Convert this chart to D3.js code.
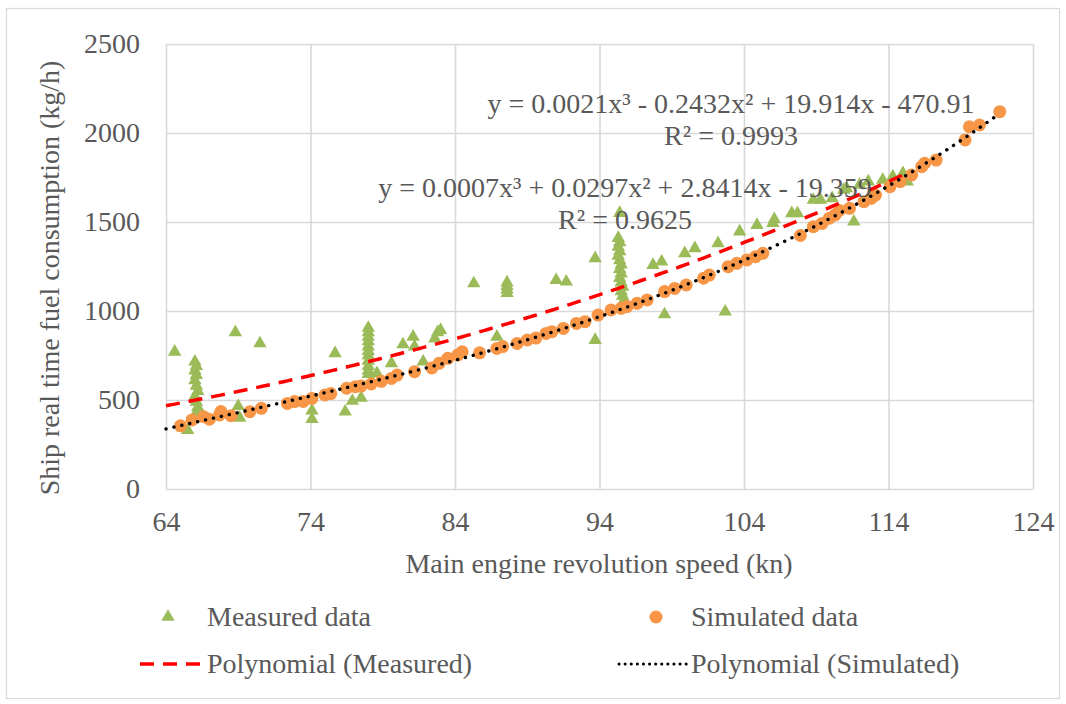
<!DOCTYPE html>
<html>
<head>
<meta charset="utf-8">
<script src="https://cdn.jsdelivr.net/npm/d3@7"></script>
<style>
  body { margin: 0; background: #fff; }
</style>
</head>
<body>
<div id="chart"></div>
<script>
// Measured data (green triangles)
const measuredX = [64.6, 65.5, 66.0, 66.1, 66.0, 66.1, 66.0, 66.1, 66.2, 66.0, 66.1, 66.2, 66.1,
    68.8, 70.5, 69.0, 69.1, 74.1, 74.1, 75.7, 76.4, 76.9, 77.5,
    78.0, 78.0, 78.0, 78.0, 78.0, 78.0, 78.0, 78.0, 78.0, 78.0, 78.0, 78.6,
    79.6, 80.4, 81.1, 81.2, 81.8, 82.6, 82.8, 83.0, 85.3, 86.9,
    87.6, 87.6, 87.6, 87.6, 91.0, 91.7, 93.7, 93.7,
    95.4, 95.3, 95.4, 95.3, 95.4, 95.3, 95.4, 95.5, 95.4, 95.5, 95.4, 95.5, 95.6, 95.5, 95.6, 95.7,
    97.7, 98.3, 98.5, 99.9, 100.6, 102.2, 102.7, 103.7, 104.9, 106.0, 106.1, 107.3, 107.7,
    108.8, 109.3, 110.1, 110.9, 111.1, 111.6, 112.0, 112.6, 113.6, 114.3, 115.0, 115.3];
const measuredY = [771, 331, 715, 690, 665, 640, 610, 580, 550, 520, 490, 460, 430,
    880, 818, 465, 400, 440, 392, 762, 434, 495, 512,
    905, 880, 855, 830, 800, 775, 750, 720, 690, 665, 645, 650,
    706, 812, 855, 800, 715, 845, 880, 893, 1155, 855,
    1160, 1140, 1120, 1100, 1174, 1165, 1296, 837,
    1550, 1410, 1385, 1360, 1335, 1310, 1285, 1260, 1235, 1210, 1185, 1160, 1135, 1110, 1085, 1060,
    1258, 1277, 981, 1324, 1352, 1380, 996, 1446, 1483, 1493, 1515, 1549, 1549,
    1624, 1624, 1633, 1680, 1689, 1502, 1708, 1727, 1736, 1755, 1774, 1727];

// Simulated data (orange circles)
const simulatedX = [65.0, 65.8, 66.6, 67.0, 67.7, 67.8, 68.5, 69.8, 70.6, 72.4, 72.9, 73.5, 74.1,
    75.0, 75.4, 76.5, 77.1, 77.5, 78.2, 78.9, 79.6, 80.0, 81.2, 82.4, 82.9, 83.5, 84.2, 84.5,
    85.7, 86.9, 87.3, 88.3, 89.0, 89.6, 90.3, 90.7, 91.5, 92.4, 93.0, 93.9, 94.8, 95.5, 95.9,
    96.6, 97.3, 98.5, 99.2, 100.0, 101.2, 101.6, 102.9, 103.5, 104.2, 104.8, 105.3, 107.9,
    108.8, 109.4, 109.9, 110.3, 110.6, 111.3, 112.3, 112.8, 113.1, 114.1, 114.8, 115.6, 116.3,
    116.5, 117.3, 119.3, 119.6, 120.3, 121.7];
const simulatedY = [355, 388, 406, 392, 416, 435, 412, 434, 453, 481, 491, 492, 509,
    528, 536, 566, 575, 578, 590, 605, 621, 640, 659, 680, 706, 734, 753, 771,
    765, 790, 800, 818, 837, 848, 874, 884, 902, 930, 940, 977, 1006, 1015, 1025,
    1043, 1062, 1109, 1127, 1146, 1184, 1202, 1249, 1268, 1287, 1305, 1324, 1424,
    1474, 1492, 1521, 1540, 1565, 1577, 1614, 1633, 1651, 1698, 1727, 1764, 1811,
    1830, 1848, 1961, 2035, 2045, 2120];

// Trendline coefficients as printed on the chart (c3, c2, c1, c0)
const measuredCoef = [0.0007, 0.0297, 2.8414, -19.359];
const measuredEq = ["y = 0.0007x³ + 0.0297x² + 2.8414x - 19.359", "R² = 0.9625"];
const simulatedEq = ["y = 0.0021x³ - 0.2432x² + 19.914x - 470.91", "R² = 0.9993"];

const xTicks = [64, 74, 84, 94, 104, 114, 124];
const yTicks = [0, 500, 1000, 1500, 2000, 2500];

const TEXT = "#595959";

// apply the serif font straight on a text selection
function serif(sel) {
    return sel.style("font-family", "Liberation Serif").style("font-size", "28px").attr("fill", TEXT);
}

// least squares cubic fit (what the spreadsheet trendline does), x centred for stability
function polyfit(xs, ys, deg, x0) {
    const n = deg + 1;
    const A = Array.from({length: n}, () => new Array(n + 1).fill(0));
    xs.forEach((xv, k) => {
        const u = xv - x0;
        for (let i = 0; i < n; i++) {
            for (let j = 0; j < n; j++) A[i][j] += Math.pow(u, i + j);
            A[i][n] += Math.pow(u, i) * ys[k];
        }
    });
    for (let c = 0; c < n; c++) {
        let p = c;
        for (let r = c + 1; r < n; r++) {
            if (Math.abs(A[r][c]) > Math.abs(A[p][c])) p = r;
        }
        const tmp = A[c]; A[c] = A[p]; A[p] = tmp;
        for (let r = 0; r < n; r++) {
            if (r === c) continue;
            const f = A[r][c] / A[c][c];
            for (let k = c; k <= n; k++) A[r][k] -= f * A[c][k];
        }
    }
    const coef = A.map((row, i) => row[n] / row[i]);
    return v => coef.reduce((s, ci, i) => s + ci * Math.pow(v - x0, i), 0);
}

const W = 1066, H = 704;
const plot = {left: 166, right: 1033, top: 44, bottom: 489};

const svg = d3.select("#chart").append("svg")
    .attr("width", W).attr("height", H);

// outer chart border
svg.append("rect")
    .attr("x", 6.5).attr("y", 8.5)
    .attr("width", 1053).attr("height", 690)
    .attr("fill", "#fff").attr("stroke", "#d9d9d9").attr("stroke-width", 1.2);

const x = d3.scaleLinear().domain([64, 124]).range([plot.left, plot.right]);
const y = d3.scaleLinear().domain([0, 2500]).range([plot.bottom, plot.top]);

// gridlines + tick labels
const yAxis = svg.append("g")
    .attr("transform", `translate(${plot.left},0)`)
    .call(d3.axisLeft(y).tickValues(yTicks).tickFormat(d3.format("d"))
        .tickSize(-(plot.right - plot.left)).tickPadding(26));
const xAxis = svg.append("g")
    .attr("transform", `translate(0,${plot.bottom})`)
    .call(d3.axisBottom(x).tickValues(xTicks).tickFormat(d3.format("d"))
        .tickSize(-(plot.bottom - plot.top)).tickPadding(22));

[yAxis, xAxis].forEach(g => {
    g.select(".domain").remove();
    g.selectAll(".tick line").attr("stroke", "#d9d9d9").attr("stroke-width", 1.6);
    serif(g.selectAll(".tick text"));
});

// measured series
const tri = d3.symbol().type(d3.symbolTriangle).size(78);
svg.append("g").selectAll("path")
    .data(measuredX.map((v, i) => [v, measuredY[i]]))
    .enter().append("path")
    .attr("d", tri)
    .attr("transform", d => `translate(${x(d[0])},${y(d[1])})`)
    .attr("fill", "#9bbb59");

// simulated series
svg.append("g").selectAll("circle")
    .data(simulatedX.map((v, i) => [v, simulatedY[i]]))
    .enter().append("circle")
    .attr("cx", d => x(d[0]))
    .attr("cy", d => y(d[1]))
    .attr("r", 6.5)
    .attr("fill", "#f79646");

// trendlines
const measFit = v => measuredCoef.reduce((s, c, i) => s + c * Math.pow(v, 3 - i), 0);
const simFit = polyfit(simulatedX, simulatedY, 3, 90);

function curve(f, x0, x1) {
    return d3.range(0, 201).map(i => {
        const v = x0 + (x1 - x0) * i / 200;
        return [x(v), y(f(v))];
    });
}
const line = d3.line();

svg.append("path")
    .attr("d", line(curve(measFit, 64, d3.max(measuredX))))
    .attr("fill", "none").attr("stroke", "#ff0000")
    .attr("stroke-width", 3.5).attr("stroke-dasharray", "14,9");

svg.append("path")
    .attr("d", line(curve(simFit, 64, d3.max(simulatedX) - 0.3)))
    .attr("fill", "none").attr("stroke", "#000")
    .attr("stroke-width", 3.4).attr("stroke-linecap", "round")
    .attr("stroke-dasharray", "0.1,8");

// trendline labels
function eqLabel(lines, cx, y0) {
    lines.forEach((s, i) => {
        serif(svg.append("text"))
            .attr("text-anchor", "middle")
            .attr("x", cx).attr("y", y0 + i * 32)
            .text(s);
    });
}
eqLabel(simulatedEq, 731, 113);
eqLabel(measuredEq, 625, 197);

// axis titles
serif(svg.append("text"))
    .attr("x", 599).attr("y", 573)
    .attr("text-anchor", "middle")
    .text("Main engine revolution speed (kn)");
serif(svg.append("text"))
    .attr("transform", "translate(59,278) rotate(-90)")
    .attr("text-anchor", "middle")
    .text("Ship real time fuel consumption (kg/h)");

// legend
const legend = svg.append("g");
legend.append("path").attr("d", tri).attr("transform", "translate(168,617)").attr("fill", "#9bbb59");
serif(legend.append("text")).attr("x", 207).attr("y", 626).text("Measured data");
legend.append("circle").attr("cx", 656).attr("cy", 617).attr("r", 6.5).attr("fill", "#f79646");
serif(legend.append("text")).attr("x", 691).attr("y", 626).text("Simulated data");
legend.append("line").attr("x1", 140).attr("x2", 204).attr("y1", 664).attr("y2", 664)
    .attr("stroke", "#ff0000").attr("stroke-width", 3.5).attr("stroke-dasharray", "14,9");
serif(legend.append("text")).attr("x", 207).attr("y", 673).text("Polynomial (Measured)");
legend.append("line").attr("x1", 619).attr("x2", 688).attr("y1", 664).attr("y2", 664)
    .attr("stroke", "#000").attr("stroke-width", 3).attr("stroke-linecap", "round")
    .attr("stroke-dasharray", "0.1,6");
serif(legend.append("text")).attr("x", 691).attr("y", 673).text("Polynomial (Simulated)");
</script>
</body>
</html>
